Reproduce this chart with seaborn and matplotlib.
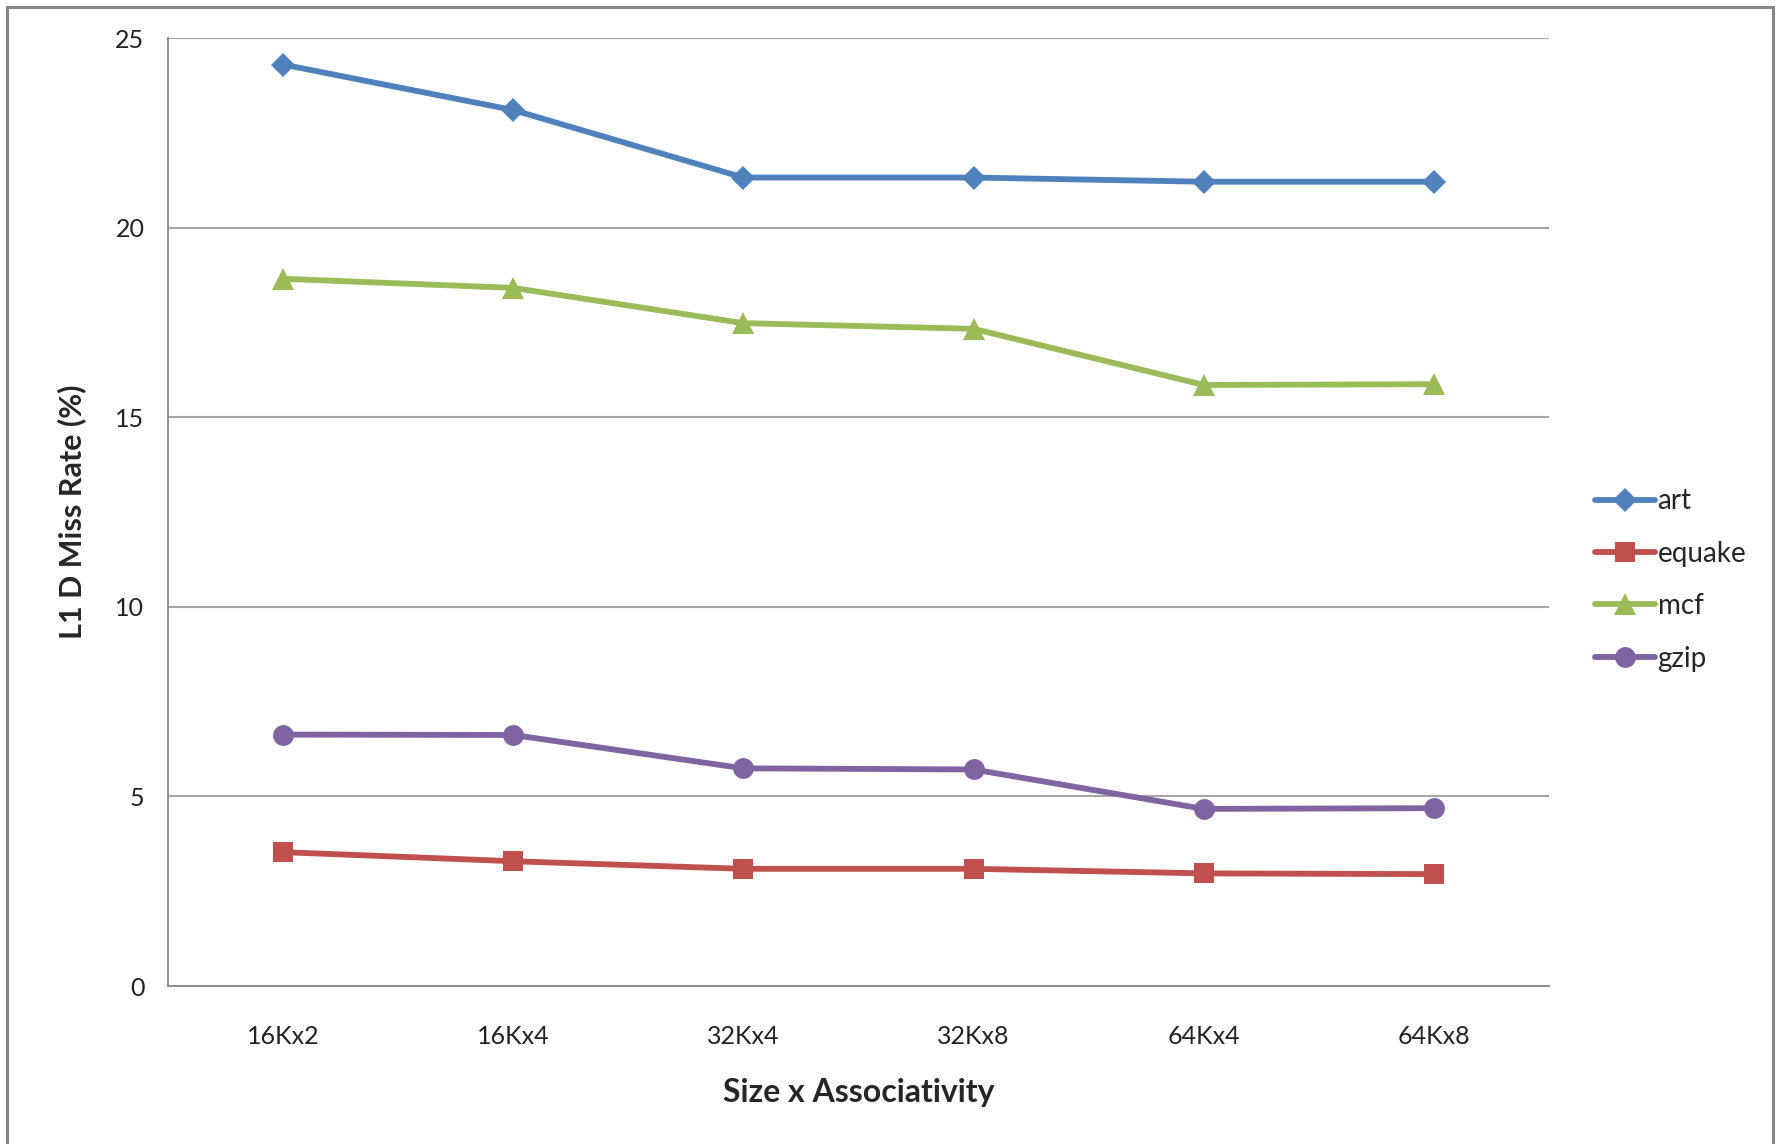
import numpy as np
import pandas as pd
import matplotlib
matplotlib.use("Agg")
import matplotlib.pyplot as plt
from matplotlib.patches import Rectangle
import seaborn as sns

# data
configs = ["16Kx2", "16Kx4", "32Kx4", "32Kx8", "64Kx4", "64Kx8"]
art = [24.30, 23.10, 21.32, 21.32, 21.21, 21.21]
equake = [3.53, 3.29, 3.09, 3.09, 2.97, 2.95]
mcf = [18.65, 18.41, 17.48, 17.33, 15.85, 15.87]
gzip = [6.63, 6.62, 5.74, 5.71, 4.67, 4.69]

series_names = ["art", "equake", "mcf", "gzip"]
series_colors = ["#4F81BD", "#C0504D", "#9BBB59", "#8064A2"]
series_markers = ["D", "s", "^", "o"]
marker_sizes = [12.5, 14.5, 16, 15]

df = pd.DataFrame({
    "config": configs * 4,
    "rate": art + equake + mcf + gzip,
    "bench": sum([[n] * len(configs) for n in series_names], []),
})

sns.set_theme(style="white")
plt.rcParams["font.family"] = ["Lato", "DejaVu Sans"]

fig = plt.figure(figsize=(17.77, 11.44), dpi=100)
ax = fig.add_axes([168 / 1777, 1 - 986 / 1144, (1549 - 168) / 1777, (986 - 38) / 1144])

sns.lineplot(data=df, x="config", y="rate", hue="bench", style="bench",
             hue_order=series_names, style_order=series_names,
             palette=dict(zip(series_names, series_colors)),
             markers=dict(zip(series_names, series_markers)),
             dashes=False, linewidth=4.2, markersize=12,
             markeredgewidth=0, ax=ax)

# per-series marker sizes like the original Excel chart
for line, ms in zip(ax.lines[:len(series_names)], marker_sizes):
    line.set_markersize(ms)

ax.set_xlim(-0.5, len(configs) - 0.5)
ax.set_ylim(0, 25)
ax.set_yticks(np.arange(0, 26, 5))
ax.set_xticks(np.arange(len(configs)))
ax.set_xticklabels(configs)
ax.set_xticks(np.arange(-0.5, len(configs)), minor=True)
ax.tick_params(axis="x", which="major", length=0, pad=28, labelsize=18, colors="#222222")
ax.tick_params(axis="x", which="minor", length=11, width=1.3, color="#868686", direction="out")
ax.tick_params(axis="y", length=8, width=1.3, color="#868686", direction="out", labelsize=18,
               labelcolor="#222222", pad=9)

ax.yaxis.grid(True, color="#A6A6A6", linewidth=1.5)
ax.set_axisbelow(True)
for side in ["top", "right"]:
    ax.spines[side].set_visible(False)
for side in ["left", "bottom"]:
    ax.spines[side].set_color("#868686")
    ax.spines[side].set_linewidth(1.3)

ax.set_xlabel("Size x Associativity", fontsize=23, fontweight="bold", labelpad=22)
ax.set_ylabel("L1 D Miss Rate (%)", fontsize=22, fontweight="bold", labelpad=21)

handles, labels = ax.get_legend_handles_labels()
for h, ms in zip(handles, marker_sizes):
    h.set_markersize(ms)
ax.legend(handles, labels, loc="center left", bbox_to_anchor=(1595 / 1777, 1 - 580 / 1144),
          bbox_transform=fig.transFigure, frameon=False, fontsize=20,
          handlelength=2.15, handletextpad=0.1, labelspacing=0.95, borderaxespad=0,
          borderpad=0)

# outer chart border (bottom edge cut off in the reference)
fig.patches.append(Rectangle((7 / 1777, -0.05), (1773 - 7) / 1777, 1.05 - 7 / 1144,
                             transform=fig.transFigure, fill=False,
                             edgecolor="#868686", linewidth=2.2))

fig.savefig("out.png", dpi=100)
